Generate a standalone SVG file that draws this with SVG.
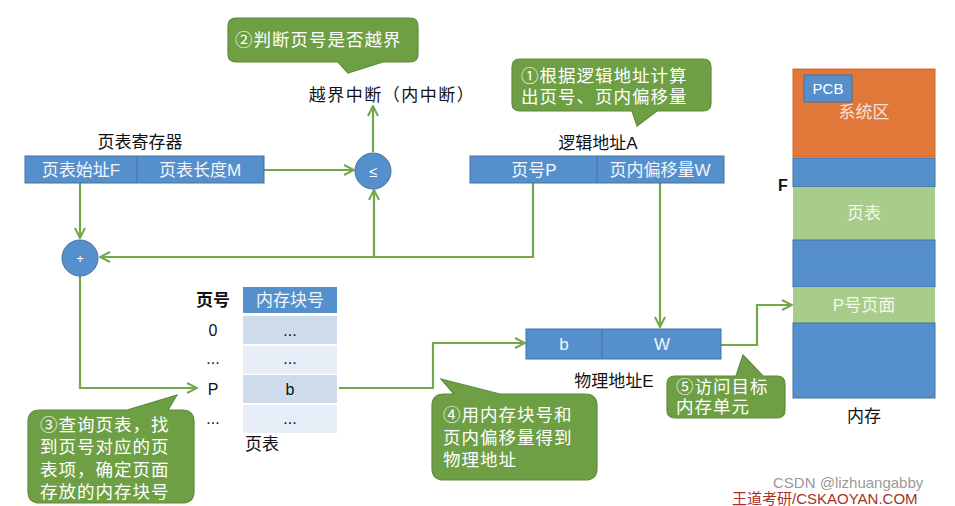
<svg xmlns="http://www.w3.org/2000/svg" width="955" height="506" viewBox="0 0 955 506">
<defs>
<style>
text{font-family:"Liberation Sans","Noto Sans CJK SC",sans-serif;}
.blue{fill:#5690CC;stroke:#4572A0;stroke-width:1;}
.cw{fill:#F2F6FB;font-size:17px;text-anchor:middle;}
.lbl{fill:#111;font-size:17px;text-anchor:middle;}
.call{fill:#6E9F45;stroke:#5E8B3B;stroke-width:1.2;}
.ct{fill:#FFFFFF;font-size:17.5px;letter-spacing:1px;}
.wire{fill:none;stroke:#72A84A;stroke-width:2.2;}
.cellA{fill:#CDDBEC;}
.cellB{fill:#E6EDF6;}
.ck{fill:#111;font-size:16px;text-anchor:middle;}
</style>
<marker id="ah" viewBox="0 0 12 12" refX="11" refY="6" markerWidth="12" markerHeight="12" markerUnits="userSpaceOnUse" orient="auto">
<path d="M1,1 L11,6 L1,11" fill="none" stroke="#72A84A" stroke-width="2"/>
</marker>
</defs>
<rect width="955" height="506" fill="#FFFFFF"/>

<g id="connectors">
<path class="wire" d="M264,170 L354,170" marker-end="url(#ah)"/>
<path class="wire" d="M373,152 L373,106" marker-end="url(#ah)"/>
<path class="wire" d="M80,183 L80,238" marker-end="url(#ah)"/>
<path class="wire" d="M533,183 L533,257 L100,257" marker-end="url(#ah)"/>
<path class="wire" d="M374,257 L374,190" marker-end="url(#ah)"/>
<path class="wire" d="M80,276 L80,388 L197,388" marker-end="url(#ah)"/>
<path class="wire" d="M339,388 L433,388 L433,343 L525,343" marker-end="url(#ah)"/>
<path class="wire" d="M660,183 L660,327" marker-end="url(#ah)"/>
<path class="wire" d="M721,345 L757,345 L757,305 L792,305" marker-end="url(#ah)"/>
</g>

<g id="callout2">
<path class="call" d="M236,18 L410,18 Q418,18 418,26 L418,54 Q418,62 410,62 L383,62 L348,73 L338,62 L236,62 Q228,62 228,54 L228,26 Q228,18 236,18 Z"/>
<text class="ct" x="235" y="46">②判断页号是否越界</text>
</g>

<g id="interrupt">
<text class="lbl" x="392" y="101" style="letter-spacing:1.5px">越界中断（内中断）</text>
</g>

<g id="cmp">
<circle cx="373" cy="171" r="18" fill="#5690CC" stroke="#4572A0" stroke-width="1"/>
<text x="373" y="177" fill="#FFFFFF" font-size="15" text-anchor="middle">≤</text>
</g>

<g id="ptr">
<text class="lbl" x="140" y="148">页表寄存器</text>
<rect class="blue" x="25" y="156" width="239" height="27"/>
<line x1="137" y1="156" x2="137" y2="183" stroke="#4572A0" stroke-width="1"/>
<text class="cw" x="81" y="176">页表始址F</text>
<text class="cw" x="200" y="176">页表长度M</text>
</g>

<g id="add">
<circle cx="80" cy="258" r="18" fill="#5690CC" stroke="#4572A0" stroke-width="1"/>
<text x="80" y="263" fill="#FFFFFF" font-size="13" text-anchor="middle">+</text>
</g>

<g id="callout1">
<path class="call" d="M520,59 L703,59 Q711,59 711,67 L711,103 Q711,111 703,111 L657,111 L637,126 L632,111 L520,111 Q512,111 512,103 L512,67 Q512,59 520,59 Z"/>
<text class="ct" x="521" y="82">①根据逻辑地址计算</text>
<text class="ct" x="521" y="103">出页号、页内偏移量</text>
</g>

<g id="logical">
<text class="lbl" x="598" y="149">逻辑地址A</text>
<rect class="blue" x="470" y="156" width="254" height="27"/>
<line x1="597" y1="156" x2="597" y2="183" stroke="#4572A0" stroke-width="1"/>
<text class="cw" x="534" y="176">页号P</text>
<text class="cw" x="660" y="176">页内偏移量W</text>
</g>

<g id="memory">
<rect x="793" y="69" width="142" height="88" fill="#E2773A" stroke="#C86A30" stroke-width="1"/>
<rect class="blue" x="804" y="75" width="48" height="27"/>
<text x="828" y="94" fill="#FFFFFF" font-size="15" text-anchor="middle">PCB</text>
<text x="864" y="118" fill="#F6E3D6" font-size="17" text-anchor="middle">系统区</text>
<rect class="blue" x="793" y="158" width="142" height="29"/>
<rect x="793" y="187" width="142" height="53" fill="#A8CC8A"/>
<text x="864" y="219" fill="#F4F8EE" font-size="17" text-anchor="middle">页表</text>
<rect class="blue" x="793" y="240" width="142" height="47"/>
<rect x="793" y="287" width="142" height="36" fill="#A8CC8A"/>
<text x="864" y="311" fill="#F4F8EE" font-size="17" text-anchor="middle">P号页面</text>
<rect class="blue" x="793" y="323" width="142" height="75"/>
<text x="783" y="191" fill="#111" font-size="16" font-weight="bold" text-anchor="middle">F</text>
<text class="lbl" x="864" y="422">内存</text>
</g>

<g id="pagetable">
<text x="213" y="306" fill="#111" font-size="17" font-weight="bold" text-anchor="middle">页号</text>
<rect x="243" y="287" width="94" height="26" fill="#5690CC"/>
<text class="cw" x="290" y="306">内存块号</text>
<rect class="cellA" x="243" y="316" width="94" height="28"/>
<rect class="cellB" x="243" y="346" width="94" height="28"/>
<rect class="cellA" x="243" y="375" width="94" height="28"/>
<rect class="cellB" x="243" y="405" width="94" height="28"/>
<text class="ck" x="213" y="336">0</text>
<text class="ck" x="213" y="364">...</text>
<text class="ck" x="213" y="395">P</text>
<text class="ck" x="213" y="424">...</text>
<text class="ck" x="290" y="336">...</text>
<text class="ck" x="290" y="364">...</text>
<text class="ck" x="290" y="395">b</text>
<text class="ck" x="290" y="424">...</text>
<text class="lbl" x="262" y="450">页表</text>
</g>

<g id="callout3">
<path class="call" d="M40,410 L127,410 L177,395 L168,410 L182,410 Q194,410 194,422 L194,491 Q194,503 182,503 L40,503 Q28,503 28,491 L28,422 Q28,410 40,410 Z"/>
<text class="ct" x="40" y="431">③查询页表，找</text>
<text class="ct" x="40" y="453">到页号对应的页</text>
<text class="ct" x="40" y="476">表项，确定页面</text>
<text class="ct" x="40" y="498">存放的内存块号</text>
</g>

<g id="physical">
<rect class="blue" x="526" y="329" width="195" height="30"/>
<line x1="602" y1="329" x2="602" y2="359" stroke="#4572A0" stroke-width="1"/>
<text class="cw" x="564" y="350">b</text>
<text class="cw" x="662" y="350">W</text>
<text class="lbl" x="614" y="387">物理地址E</text>
</g>

<g id="callout4">
<path class="call" d="M444,394 L454,394 L441,379 L500,394 L585,394 Q597,394 597,406 L597,468 Q597,480 585,480 L444,480 Q432,480 432,468 L432,406 Q432,394 444,394 Z"/>
<text class="ct" x="443" y="421">④用内存块号和</text>
<text class="ct" x="443" y="444">页内偏移量得到</text>
<text class="ct" x="443" y="466">物理地址</text>
</g>

<g id="callout5">
<path class="call" d="M675,376 L736,376 L743,355 L763,376 L777,376 Q785,376 785,384 L785,410 Q785,418 777,418 L675,418 Q667,418 667,410 L667,384 Q667,376 675,376 Z"/>
<text class="ct" x="676" y="393">⑤访问目标</text>
<text class="ct" x="676" y="413">内存单元</text>
</g>

<g id="watermarks">
<text x="773" y="488" fill="#9A9A9A" font-size="15">CSDN @lizhuangabby</text>
<text x="732" y="504" fill="#A8301F" font-size="15">王道考研/CSKAOYAN.COM</text>
</g>
</svg>
